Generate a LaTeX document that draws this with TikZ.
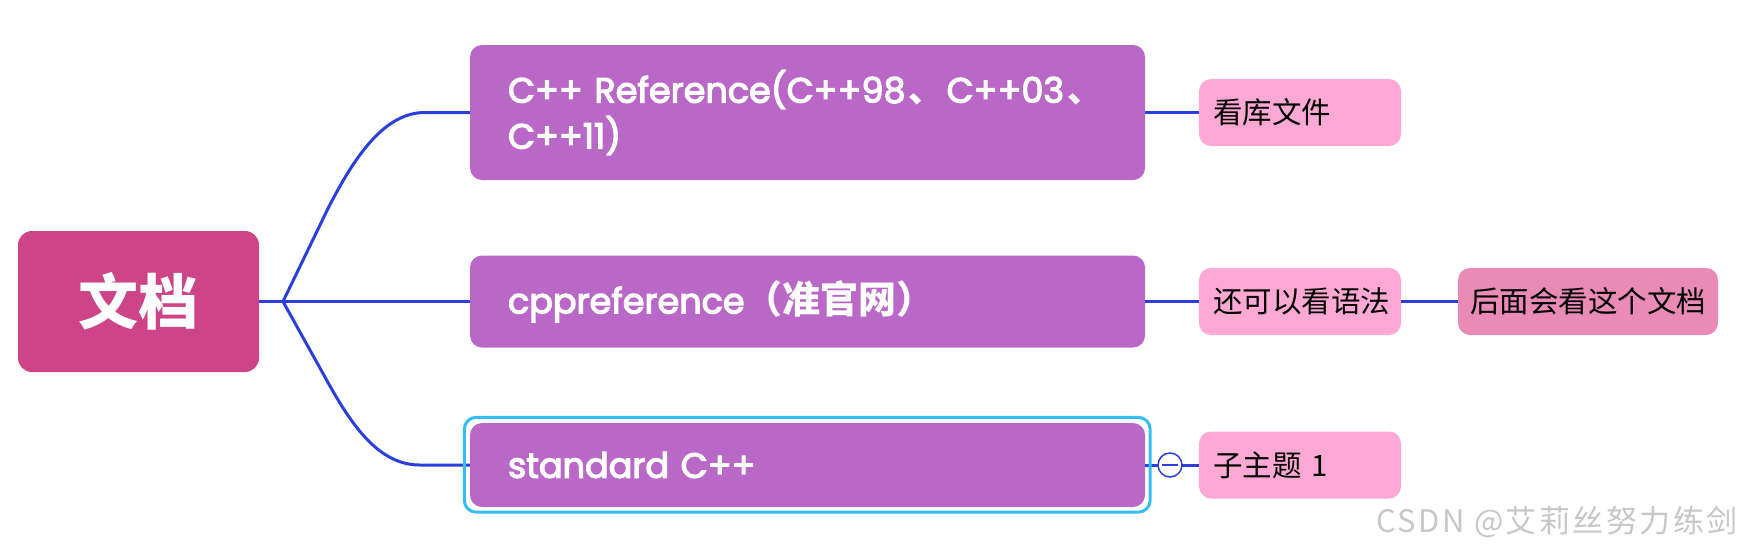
\documentclass[tikz,border=0pt]{standalone}
\usepackage{fontspec}
\setmainfont{Poppins}[FakeBold=3.5]
\newfontfamily\cjk{Noto Sans CJK SC}
\definecolor{rootpink}{HTML}{CD4488}
\definecolor{topicpurple}{HTML}{BA68C8}
\definecolor{subpink}{HTML}{FEA9D5}
\definecolor{deeppink}{HTML}{E98AB7}
\definecolor{linkblue}{HTML}{2A3FDB}
\definecolor{selcyan}{HTML}{35BDF6}
\tikzset{
  root/.style={fill=rootpink, rounded corners=14pt, text=white,
    minimum width=241pt, minimum height=141pt,
    font=\cjk\bfseries\fontsize{60}{60}\selectfont},
  topic/.style={fill=topicpurple, rounded corners=12pt, text=white,
    minimum width=675pt, inner xsep=38pt, text width=599pt, align=left,
    font=\fontsize{35}{46}\selectfont},
  subtopic/.style={fill=subpink, rounded corners=12pt, text=black,
    minimum width=202pt, minimum height=67pt, inner xsep=14pt,
    text width=174pt, align=left,
    font=\cjk\fontsize{29.5}{35}\selectfont},
  link/.style={draw=linkblue, line width=3pt},
}
\newcommand\dun{\hspace{3pt}{\cjk\bfseries 、}\hspace{3pt}}
\begin{document}
\begin{tikzpicture}[x=1pt,y=-1pt]
\useasboundingbox (0,0) rectangle (1746,550);
% central topic
\node[root] (doc) at (138.5,301.5) {文档};
\coordinate (fork) at (283,301.5);
% main topics
\node[topic, minimum height=135pt] (ref) at (807.5,112.5)
  {C++ Reference(C++98\dun C++03\dun\\C++11)};
\node[topic, minimum height=92pt] (cpp) at (807.5,301.5)
  {cppreference{\cjk\bfseries\fontsize{38}{46}\selectfont （准官网）}};
\node[topic, minimum height=84pt] (std) at (807.5,465)
  {standard C++};
% sub topics
\node[subtopic] (lib) at (1300,112.5) {看库文件};
\node[subtopic] (gram) at (1300,301.5) {还可以看语法};
\node[subtopic, fill=deeppink, minimum width=260pt, text width=236pt,
  inner xsep=12pt] (later) at (1588,301.5) {后面会看这个文档};
\node[subtopic] (sub1) at (1300,465) {子主题 1};
% connectors
\draw[link] (doc.east) -- (fork) -- (cpp.west);
\draw[link] (fork) -- ++(45,-93) .. controls +(27,-53) and +(-40,0)
  .. ([xshift=-45pt]ref.west) -- (ref.west);
\draw[link] (fork) -- ++(45,81) .. controls +(25,45) and +(-40,0)
  .. ([xshift=-50pt]std.west) -- (std.west);
\draw[link] (ref.east) -- (lib.west);
\draw[link] (cpp.east) -- (gram.west);
\draw[link] (gram.east) -- (later.west);
\draw[link] (std.east) -- (sub1.west);
% selection frame and fold button
\draw[selcyan, line width=3pt, rounded corners=12pt]
  ([shift={(-5.5pt,5.5pt)}]std.north west) rectangle ([shift={(5pt,-5pt)}]std.south east);
\node[circle, draw=linkblue, fill=white, line width=1.5pt, minimum size=24pt,
  inner sep=0pt] (fold) at (1170,465) {};
\draw[linkblue, line width=1.5pt] ([xshift=-8pt]fold.center) -- ([xshift=8pt]fold.center);
% watermark
\node[anchor=east, text=black!22, inner sep=0pt,
  font=\cjk\addfontfeature{LetterSpace=8}\fontsize{31}{32}\selectfont]
  (mark) at (1738,522) {CSDN @艾莉丝努力练剑};
\end{tikzpicture}
\end{document}
